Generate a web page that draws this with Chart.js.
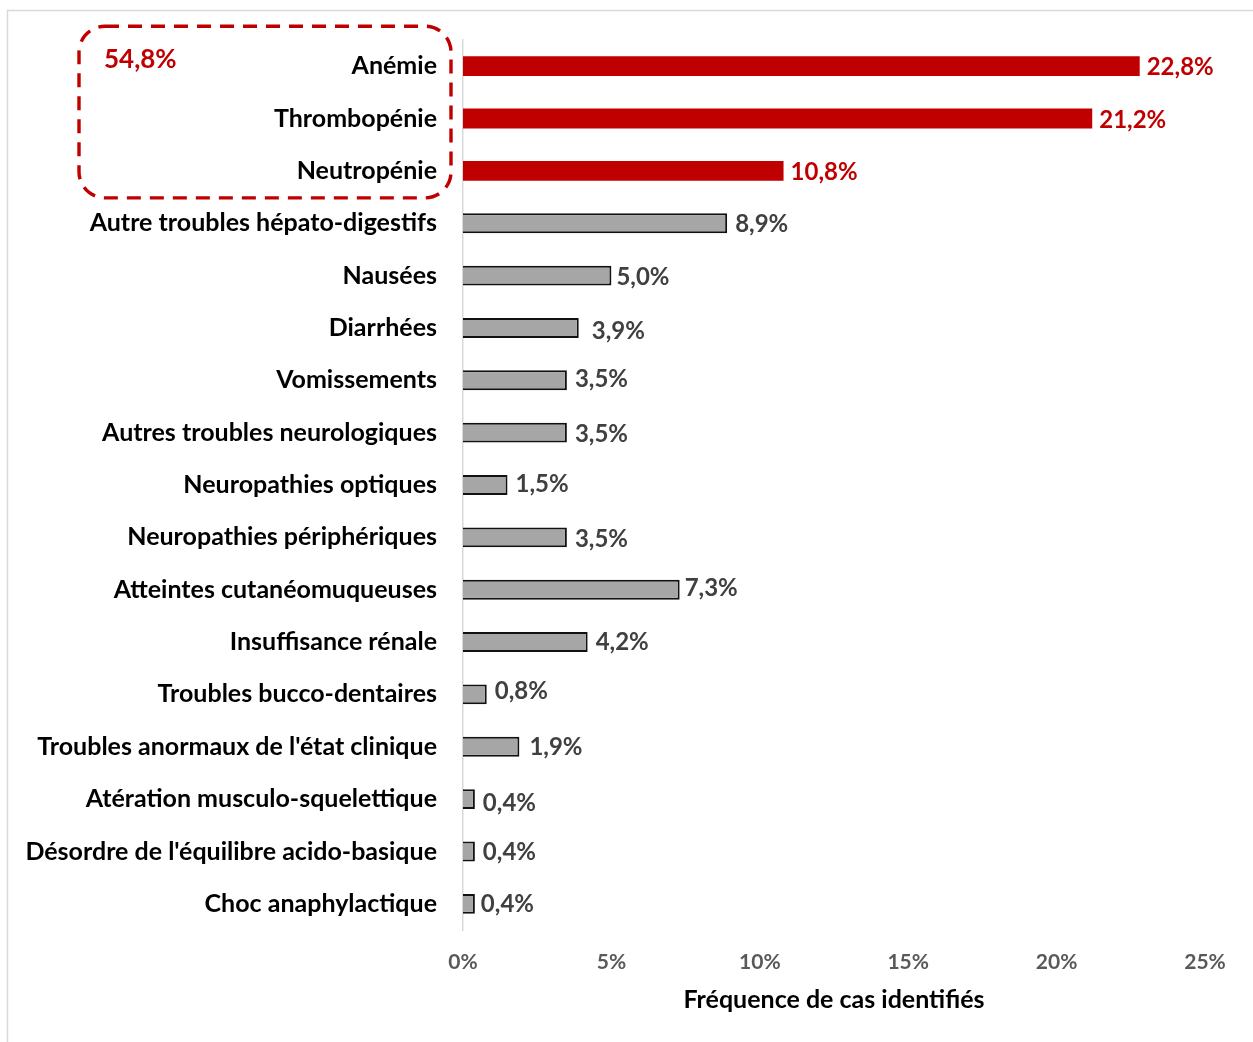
<!DOCTYPE html>
<html lang="fr">
<head>
<meta charset="utf-8">
<title>Fréquence de cas identifiés</title>
<script src="https://cdn.jsdelivr.net/npm/chart.js@4.4.1/dist/chart.umd.min.js"></script>
<style>
  html, body { margin: 0; padding: 0; background: #fff; overflow: hidden; }
  #wrap { position: relative; width: 1253px; height: 1042px; }
</style>
</head>
<body>
<div id="wrap"><canvas id="myChart"></canvas></div>
<script>
// données
const categories = [
    'Anémie',
    'Thrombopénie',
    'Neutropénie',
    'Autre troubles hépato-digestifs',
    'Nausées',
    'Diarrhées',
    'Vomissements',
    'Autres troubles neurologiques',
    'Neuropathies optiques',
    'Neuropathies périphériques',
    'Atteintes cutanéomuqueuses',
    'Insuffisance rénale',
    'Troubles bucco-dentaires',
    "Troubles anormaux de l'état clinique",
    'Atération musculo-squelettique',
    "Désordre de l'équilibre acido-basique",
    'Choc anaphylactique'
];
const frequencies = [22.8, 21.2, 10.8, 8.9, 5.0, 3.9, 3.5, 3.5, 1.5, 3.5, 7.3, 4.2, 0.8, 1.9, 0.4, 0.4, 0.4];
const nbHighlighted = 3;
const groupTotal = '54,8%';
const xTickValues = [0, 5, 10, 15, 20, 25];

// petits décalages des étiquettes (déplacées à la main dans l'original)
const labelShift = [
    [0, 1], [0, 2], [0, 1], [1, 1], [-2, 2], [6, 3], [1, -1], [1, 2], [1, -1],
    [1, 2], [-2, -1], [1, 0], [1, -3], [3, 1], [1, 4], [1, 1], [-1, 0]
];

const RED = '#C00000';
const GREY = '#A6A6A6';
const FONT = 'Lato, "Noto Sans", sans-serif';

const fmt = (v) => v.toFixed(1).replace('.', ',') + '%';

const framePlugin = {
    id: 'frame',
    beforeDraw(chart) {
        const ctx = chart.ctx;
        ctx.save();
        ctx.strokeStyle = '#D9D9D9';
        ctx.lineWidth = 1.5;
        ctx.beginPath();
        ctx.moveTo(7.5, chart.height + 5);
        ctx.lineTo(7.5, 10.5);
        ctx.lineTo(chart.width + 5, 10.5);
        ctx.stroke();
        ctx.restore();
    }
};

const valueLabels = {
    id: 'valueLabels',
    afterDatasetsDraw(chart) {
        const ctx = chart.ctx;
        const meta = chart.getDatasetMeta(0);
        ctx.save();
        ctx.font = 'bold 24px ' + FONT;
        ctx.textAlign = 'left';
        ctx.textBaseline = 'middle';
        meta.data.forEach((bar, i) => {
            const s = labelShift[i] || [0, 0];
            ctx.fillStyle = i < nbHighlighted ? RED : '#404040';
            ctx.fillText(fmt(frequencies[i]), bar.x + 7 + s[0], bar.y + s[1]);
        });
        ctx.restore();
    }
};

const groupBox = {
    id: 'groupBox',
    afterDraw(chart) {
        const ctx = chart.ctx;
        const y = chart.scales.y;
        const top = y.getPixelForValue(0) - 40;
        const bottom = y.getPixelForValue(nbHighlighted - 1) + 27;
        const left = 79;
        const right = chart.chartArea.left - 12;
        ctx.save();
        ctx.strokeStyle = RED;
        ctx.lineWidth = 3.4;
        ctx.setLineDash([14, 9]);
        ctx.beginPath();
        ctx.roundRect(left, top, right - left, bottom - top, 26);
        ctx.stroke();
        ctx.setLineDash([]);
        ctx.fillStyle = RED;
        ctx.font = 'bold 26px ' + FONT;
        ctx.textBaseline = 'middle';
        ctx.fillText(groupTotal, 104, top + 33);
        ctx.restore();
    }
};

const chartData = {
    labels: categories,
    datasets: [{
        data: frequencies,
        backgroundColor: frequencies.map((v, i) => i < nbHighlighted ? RED : GREY),
        borderColor: frequencies.map((v, i) => i < nbHighlighted ? RED : '#111'),
        borderWidth: frequencies.map((v, i) => i < nbHighlighted ? 0 : 2),
        barPercentage: 0.38,
        categoryPercentage: 1
    }]
};

const config = {
    type: 'bar',
    data: chartData,
    options: {
        indexAxis: 'y',
        responsive: true,
        maintainAspectRatio: false,
        animation: false,
        layout: { padding: { top: 40, right: 48, left: 0, bottom: 0 } },
        plugins: {
            legend: { display: false },
            tooltip: { enabled: false }
        },
        scales: {
            x: {
                min: 0,
                max: 25,
                afterBuildTicks: (scale) => {
                    scale.ticks = xTickValues.map(v => ({ value: v }));
                },
                afterFit: (scale) => { scale.height = 112; },
                grid: { display: false },
                border: { display: false },
                ticks: {
                    padding: 12,
                    color: '#595959',
                    font: { family: FONT, size: 21, weight: 'bold' },
                    callback: (v) => v + '%'
                },
                title: {
                    display: true,
                    text: 'Fréquence de cas identifiés',
                    color: '#000',
                    font: { family: FONT, size: 25, weight: 'bold' },
                    padding: { top: 0, bottom: 27 }
                }
            },
            y: {
                afterFit: (scale) => { scale.width = 463; },
                grid: { display: false },
                border: { display: true, color: '#D9D9D9', width: 1.5 },
                ticks: {
                    padding: 18,
                    color: '#000',
                    font: { family: FONT, size: 25, weight: 'bold' },
                    autoSkip: false
                }
            }
        }
    },
    plugins: [framePlugin, valueLabels, groupBox]
};

const myChart = new Chart(document.getElementById('myChart'), config);
</script>
</body>
</html>
